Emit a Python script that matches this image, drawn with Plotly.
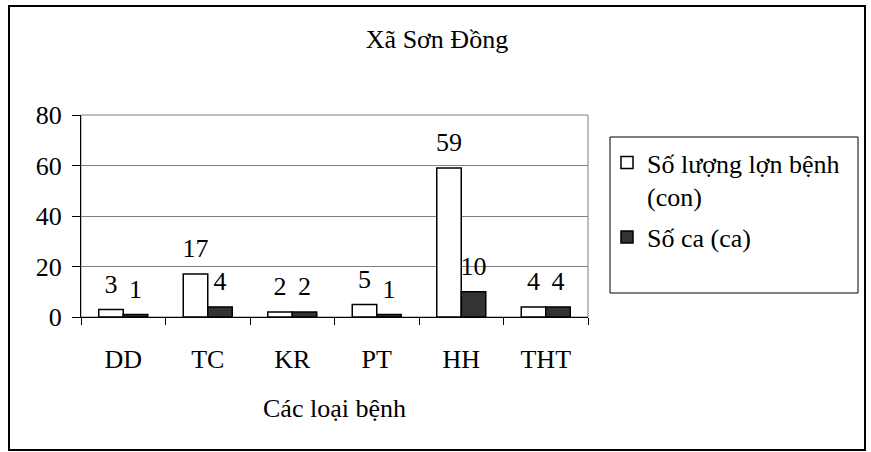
import plotly.graph_objects as go

categories = ["DD", "TC", "KR", "PT", "HH", "THT"]
so_luong_lon_benh = [3, 17, 2, 5, 59, 4]
so_ca = [1, 4, 2, 1, 10, 4]
y_ticks = [0, 20, 40, 60, 80]

series_names = ["Số lượng lợn bệnh<br>(con)", "Số ca (ca)"]
FONT = "Liberation Serif"
FS = 26
W, H = 871, 452
L, R, T, B = 81, 588, 115, 317  # plot area pixel bounds

def px(x):
    return (x - L) / (R - L)

def py(y):
    return (B - y) / (B - T)

BARGAP = 0.42

fig = go.Figure()
fig.add_trace(go.Bar(
    x=categories, y=so_luong_lon_benh, name=series_names[0],
    marker=dict(color="white", line=dict(color="black", width=1.5)),
    offsetgroup="a", legendgroup="a", hoverinfo="x+y",
))
fig.add_trace(go.Bar(
    x=categories, y=so_ca, name=series_names[1],
    marker=dict(color="#333333", line=dict(color="black", width=1.5)),
    offsetgroup="b", legendgroup="b", hoverinfo="x+y",
))
# data labels
for vals, grp in [(so_luong_lon_benh, "a"), (so_ca, "b")]:
    fig.add_trace(go.Scatter(
        x=categories, y=vals, mode="markers+text", text=[str(v) for v in vals],
        textposition="top center", textfont=dict(family=FONT, size=FS, color="black"),
        marker=dict(size=15, opacity=0), offsetgroup=grp, showlegend=False,
        hoverinfo="skip", cliponaxis=False,
    ))

fig.update_layout(
    width=W, height=H,
    margin=dict(l=L, r=W - R, t=T, b=H - B, pad=0),
    paper_bgcolor="white", plot_bgcolor="white",
    barmode="group", bargap=BARGAP, bargroupgap=0,
    scattermode="group", scattergap=BARGAP,
    font=dict(family=FONT, size=FS, color="black"),
    title=dict(text="Xã Sơn Đồng", x=437 / W, xanchor="center", xref="container",
               y=1 - 39 / H, yanchor="middle", yref="container",
               font=dict(family=FONT, size=FS, color="black")),
    showlegend=True,
    legend=dict(x=px(607), y=py(139), xanchor="left", yanchor="top",
                bgcolor="rgba(0,0,0,0)", borderwidth=0, valign="top",
                font=dict(family=FONT, size=FS, color="black"),
                tracegroupgap=4, itemclick=False, itemdoubleclick=False),
    xaxis=dict(
        type="category", showline=True, linecolor="black", linewidth=1,
        ticks="outside", ticklen=7, tickcolor="black", tickson="boundaries",
        showgrid=False, ticklabelstandoff=19,
        title=dict(text="Các loại bệnh", standoff=25,
                   font=dict(family=FONT, size=FS, color="black")),
        automargin=False,
    ),
    yaxis=dict(
        range=[0, 80], tickvals=y_ticks, showline=True, linecolor="black",
        linewidth=1, ticks="outside", ticklen=8, tickcolor="black",
        showgrid=True, gridcolor="#808080", gridwidth=1, zeroline=False,
        ticklabelstandoff=5, automargin=False,
    ),
    shapes=[
        # outer chart border
        dict(type="rect", xref="paper", yref="paper",
             x0=px(9), x1=px(865), y0=py(450), y1=py(6),
             line=dict(color="black", width=2), layer="below"),
        # plot area border
        dict(type="rect", xref="paper", yref="paper",
             x0=0, x1=1, y0=0, y1=1,
             line=dict(color="#808080", width=1), layer="below"),
        # legend box
        dict(type="rect", xref="paper", yref="paper",
             x0=px(610), x1=px(858), y0=py(293), y1=py(137),
             line=dict(color="black", width=1), layer="below"),
    ],
)

fig.write_html("out.html", config={"displayModeBar": False},
               post_script="document.body.style.margin='0px';")
